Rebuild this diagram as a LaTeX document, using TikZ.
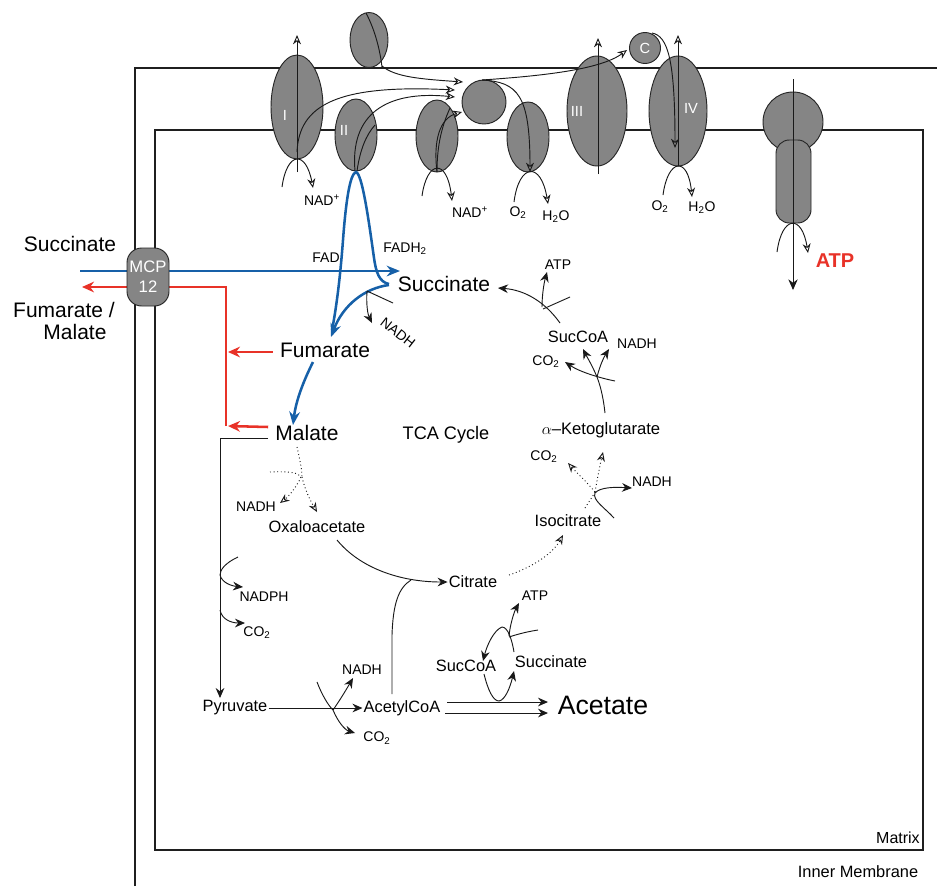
\documentclass[tikz,border=0pt]{standalone}
\usepackage{fontspec}
\setmainfont{Liberation Sans}
\usepackage{xcolor}
\usepackage{tikz}
\usetikzlibrary{arrows.meta,calc}
\usetikzlibrary{positioning}

\definecolor{cplxgray}{RGB}{133,133,133}
\definecolor{flowblue}{RGB}{22,96,168}
\definecolor{flowred}{RGB}{232,50,40}

\tikzset{
  memb/.style={line width=2.2pt, color=black!88},
  cplx/.style={draw=black!85, fill=cplxgray, line width=0.7pt},
  wire/.style={line width=0.7pt, color=black!90},
  opentip/.style={-{Stealth[open,length=7pt,width=6pt]}},
  solidtip/.style={-{Stealth[length=7.5pt,width=6.5pt]}},
  bluepath/.style={flowblue, line width=1.9pt},
  bluetip/.style={-{Stealth[length=10pt,width=8pt]}},
  redpath/.style={flowred, line width=1.9pt},
  redtip/.style={-{Stealth[length=9pt,width=8pt]}},
  lab/.style={inner sep=0.75pt, font=\fontsize{10.5}{12}\selectfont},
  met/.style={inner sep=0.75pt, font=\fontsize{12.3}{14}\selectfont},
  bigmet/.style={inner sep=0.75pt, font=\fontsize{15.75}{18}\selectfont},
  roman/.style={inner sep=0.75pt, white, font=\fontsize{11}{12}\selectfont}
}

\begin{document}
\begin{tikzpicture}[x=0.75pt,y=0.75pt,yscale=-1]
  \useasboundingbox (0,0) rectangle (937,886);

  %Membranes
  \draw[memb] (135,886) -- (135,68) -- (937,68);
  \draw[memb] (155,130) rectangle (923,850);

  %Complex I
  \draw[cplx] (297,107) ellipse (26 and 52);
  \node[roman] (nI) at (285,115) {I};
  \draw[wire, opentip] (297,172) -- (297,35);
  \draw[wire, opentip] (282,187) .. controls (287,151) and (306,150) .. (313,188);
  \draw[wire, opentip] (297,152) .. controls (299,106) and (335,84) .. (455,90);
  \node[lab] (nadI) at (322,200) {NAD\textsuperscript{+}};

  %Top enzyme
  \draw[cplx] (369,40) ellipse (19 and 27.5);
  \draw[wire] (366,13) .. controls (375,30) and (380,50) .. (382,67);
  \draw[wire, opentip] (382,66) .. controls (395,77) and (420,79) .. (463,82);

  %Complex II
  \draw[cplx] (356,135) ellipse (21 and 36);
  \node[roman] (nII) at (344,130) {II};
  \draw[wire] (357,171) .. controls (360,150) and (366,135) .. (375,125);
  \draw[wire, opentip] (355,171) .. controls (350,115) and (385,90) .. (455,97);

  %Alternative dehydrogenase
  \draw[cplx] (437,136) ellipse (21 and 36);
  \draw[wire] (437,172) .. controls (437,150) and (440,130) .. (450,108);
  \draw[wire, opentip] (437,172) .. controls (433,140) and (440,118) .. (462,112);
  \draw[wire, opentip] (422,196) .. controls (427,160) and (447,158) .. (452,201);
  \node[lab] (nadII) at (470,212) {NAD\textsuperscript{+}};

  %Quinone pool
  \draw[cplx] (484,102) circle (22);

  %Alternative oxidase
  \draw[cplx] (528,137) ellipse (21 and 35);
  \draw[wire, opentip] (482,80) .. controls (518,82) and (530,95) .. (530,172);
  \draw[wire, opentip] (514,202) .. controls (519,163) and (541,161) .. (548,204);
  \node[lab] (oxa) at (518,213) {O\textsubscript{2}};
  \node[lab] (wata) at (556,217) {H\textsubscript{2}O};

  %Complex III
  \draw[cplx] (597,111) ellipse (30 and 55);
  \node[roman] (nIII) at (577,111) {III};
  \draw[wire, opentip] (598,174) -- (598,38);
  \draw[wire, opentip] (482,80) .. controls (540,76) and (600,70) .. (627,50);

  %Cytochrome c
  \draw[cplx] (645,48) circle (15.5);
  \node[roman] (cytc) at (645,48) {C};

  %Complex IV
  \draw[cplx] (678,111) ellipse (29 and 55);
  \node[roman] (nIV) at (691,108) {IV};
  \draw[wire, opentip] (678,166) -- (678,35);
  \draw[wire, opentip] (652,33) .. controls (668,36) and (675,60) .. (675,148);
  \draw[wire, opentip] (663,195) .. controls (668,158) and (688,156) .. (692,197);
  \node[lab] (oxb) at (660,207) {O\textsubscript{2}};
  \node[lab] (watb) at (702,208) {H\textsubscript{2}O};

  %ATP synthase
  \draw[cplx] (793,122) circle (30);
  \draw[cplx, rounded corners=10pt] (776,140) rectangle (811,223);
  \draw[wire, -{Stealth[length=8pt,width=7pt]}] (793,79) -- (793,290);
  \draw[wire, opentip] (777,252) .. controls (782,215) and (802,214) .. (808,253);
  \node[inner sep=0.75pt, flowred, font=\fontsize{15}{17}\selectfont\bfseries] (atpsyn) at (835,261) {ATP};

  % Text Node
  \node[bigmet] (sucout) at (70,244) {Succinate};
  \node[bigmet] (fumout) at (64,310) {Fumarate /};
  \node[bigmet] (malout) at (75,332) {Malate};

  %Carrier lines
  \draw[bluepath, bluetip] (80,271) -- (400,271);
  \draw[redpath, redtip] (226,426) -- (226,287) -- (82,287);
  \node[cplx, rounded corners=11pt, minimum width=31.5pt, minimum height=43.5pt,
        inner sep=0pt, align=center, text=white,
        font=\fontsize{12.5}{15}\selectfont] (mcp) at (148,277) {MCP\\12};

  %TCA cycle metabolites
  \node[bigmet] (suc) at (444,284) {Succinate};
  \node[bigmet] (fum) at (325,350) {Fumarate};
  \node[bigmet] (mal) at (307,433) {Malate};
  \node[inner sep=0.75pt, font=\fontsize{13.6}{15}\selectfont] (tca) at (446,435) {TCA Cycle};
  \node[inner sep=0.75pt, font=\fontsize{12.5}{14}\selectfont] (akg) at (601,430) {$\alpha$--Ketoglutarate};
  \node[met] (sca) at (578,337) {SucCoA};
  \node[met] (iso) at (568,521) {Isocitrate};
  \node[met] (cit) at (473,582) {Citrate};
  \node[met] (oaa) at (317,527) {Oxaloacetate};
  \node[met] (pyr) at (235,708) {Pyruvate};
  \node[met] (acoa) at (402,708) {AcetylCoA};
  \node[inner sep=0.75pt, font=\fontsize{20}{22}\selectfont] (ace) at (603,705) {Acetate};
  \node[met] (scb) at (466,666) {SucCoA};
  \node[met] (sucb) at (551,662) {Succinate};

  %Side products
  \node[lab] (fad) at (326,258) {FAD};
  \node[lab] (fadh) at (405,249) {FADH\textsubscript{2}};
  \node[lab, rotate=-38] (nadha) at (398,333) {NADH};
  \node[lab] (atpa) at (558,265) {ATP};
  \node[lab] (nadhb) at (637,344) {NADH};
  \node[lab] (coa) at (546,362) {CO\textsubscript{2}};
  \node[lab] (cob) at (544,457) {CO\textsubscript{2}};
  \node[lab] (nadhc) at (652,482) {NADH};
  \node[lab] (nadhd) at (256,507) {NADH};
  \node[lab] (nadph) at (264,597) {NADPH};
  \node[lab] (coc) at (257,633) {CO\textsubscript{2}};
  \node[lab] (nadhe) at (362,670) {NADH};
  \node[lab] (cod) at (377,738) {CO\textsubscript{2}};
  \node[lab] (atpb) at (535,596) {ATP};

  %Succinate -> Fumarate via complex II
  \draw[bluepath] (389,284) .. controls (379,282) and (376,272) .. (374,258) .. controls (368,215) and (362,174) .. (356,172) .. controls (350,174) and (346,200) .. (343,240) .. controls (340,280) and (336,310) .. (332,330);
  \draw[bluepath, bluetip] (389,285) .. controls (365,288) and (343,305) .. (331,337);
  \draw[wire] (393,303) -- (367,291);
  \draw[wire, solidtip] (367,291) .. controls (366,305) and (368,315) .. (372,323);
  %Fumarate -> Malate
  \draw[bluepath, bluetip] (313,362) .. controls (304,380) and (296,400) .. (293,425);
  \draw[redpath, redtip] (fum.west) ++(-6,2) -- (228,352);
  \draw[redpath, redtip] (mal.west) ++(-6,-6) -- (228,426);

  %SucCoA -> Succinate
  \draw[wire, solidtip] (560,323) .. controls (545,302) and (525,290) .. (498,288);
  \draw[wire, solidtip] (542,307) .. controls (542,295) and (544,283) .. (547,272);
  \draw[wire] (570,297) -- (543,309);
  %Ketoglutarate -> SucCoA
  \draw[wire] (605,413) .. controls (603,395) and (600,385) .. (597,377);
  \draw[wire, solidtip] (597,377) .. controls (592,365) and (587,357) .. (583,349);
  \draw[wire, solidtip] (597,377) .. controls (600,365) and (604,357) .. (609,349);
  \draw[wire, solidtip] (615,381) .. controls (600,378) and (580,372) .. (565,362);
  %Isocitrate -> Ketoglutarate
  \draw[wire, dotted] (585,508) .. controls (590,500) and (593,496) .. (595,492);
  \draw[wire, dotted, opentip] (595,492) .. controls (585,480) and (576,472) .. (568,463);
  \draw[wire, dotted, opentip] (595,492) .. controls (598,475) and (600,465) .. (603,452);
  \draw[wire, solidtip] (614,518) .. controls (605,508) and (592,500) .. (595,493) .. controls (600,487) and (615,487) .. (632,488);
  %Citrate -> Isocitrate
  \draw[wire, dotted, opentip] (509,575) .. controls (530,568) and (552,555) .. (563,535);
  %Oxaloacetate -> Citrate
  \draw[wire, solidtip] (337,540) .. controls (360,568) and (400,582) .. (cit.west);
  \draw[wire] (acoa.north -| 392,0) ++(0,-5) -- (392,635) .. controls (393,605) and (398,588) .. (411,580);
  %Malate -> Oxaloacetate
  \draw[wire, dotted] (297,447) .. controls (300,460) and (302,470) .. (302,477);
  \draw[wire, dotted, opentip] (302,477) .. controls (305,490) and (310,500) .. (317,512);
  \draw[wire, dotted, opentip] (270,472) .. controls (290,471) and (299,473) .. (301,477) .. controls (296,488) and (288,497) .. (280,503);

  %Malic enzyme branch
  \draw[wire, solidtip] (268,438) -- (220,438) -- (220,698);
  \draw[wire, solidtip] (238,557) .. controls (225,563) and (220,570) .. (220,575) .. controls (222,583) and (232,586) .. (243,587);
  \draw[wire, solidtip] (220,610) .. controls (222,620) and (232,623) .. (245,623);

  %Pyruvate -> AcetylCoA
  \draw[wire, solidtip] (pyr.east) -- (acoa.west);
  \draw[wire, solidtip] (317,682) .. controls (322,695) and (328,705) .. (333,710) .. controls (338,722) and (345,730) .. (355,733);
  \draw[wire, solidtip] (333,710) .. controls (340,700) and (346,690) .. (353,678);

  %AcetylCoA -> Acetate
  \draw[wire, solidtip] (447,702) -- (548,702);
  \draw[wire, solidtip] (445,713) -- (548,713);
  \draw[wire, solidtip] (514,652) .. controls (512,640) and (508,627) .. (502,627) .. controls (494,630) and (487,645) .. (483,661);
  \draw[wire, solidtip] (509,636) .. controls (510,625) and (514,612) .. (519,603);
  \draw[wire] (538,630) .. controls (525,632) and (515,635) .. (509,637);
  \draw[wire, solidtip] (484,674) .. controls (488,690) and (493,701) .. (499,701) .. controls (505,700) and (510,688) .. (514,671);

  % Text Node
  \node[inner sep=0.75pt, font=\fontsize{12}{14}\selectfont, anchor=east] (matrix) at (921,838) {Matrix};
  \node[inner sep=0.75pt, font=\fontsize{12.3}{14}\selectfont] (innermem) at (858,872) {Inner Membrane};
\end{tikzpicture}
\end{document}
